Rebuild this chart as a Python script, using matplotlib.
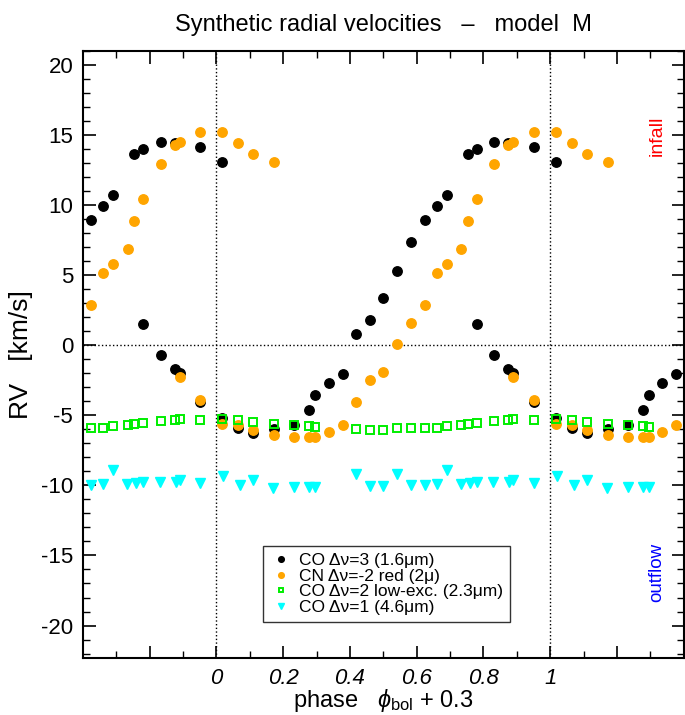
import numpy as np
import matplotlib
matplotlib.use('Agg')
import matplotlib.pyplot as plt
from matplotlib.ticker import MultipleLocator, FuncFormatter

plt.rcParams['font.family'] = ['Liberation Sans', 'DejaVu Sans']
plt.rcParams['mathtext.fontset'] = 'custom'
plt.rcParams['mathtext.rm'] = 'Liberation Sans'
plt.rcParams['mathtext.it'] = 'Liberation Sans:italic'

# one pulsation cycle of synthetic RVs, phase = phi_bol + 0.3 (plotted twice, shifted by 1)
co3_phase = [-0.376, -0.340, -0.310, -0.246, -0.219, -0.167, -0.125, -0.048, 0.017,
             -0.219, -0.167, -0.125, -0.110, -0.048, 0.017, 0.066, 0.110, 0.174, 0.232,
             0.277, 0.295, 0.336, 0.378, 0.419, 0.460, 0.500, 0.542, 0.582]
co3_rv = [8.93, 9.93, 10.74, 13.64, 14.0, 14.5, 14.45, 14.1, 13.07,
          1.48, -0.71, -1.67, -1.98, -4.05, -5.19, -5.9, -6.24, -5.95, -5.67,
          -4.6, -3.57, -2.69, -2.05, 0.79, 1.76, 3.33, 5.29, 7.33]

cn_phase = [-0.376, -0.340, -0.310, -0.266, -0.246, -0.219, -0.167, -0.125, -0.110, -0.048,
            0.017, 0.066, 0.110, 0.174,
            -0.110, -0.048, 0.017, 0.066, 0.110, 0.174, 0.232, 0.277, 0.295, 0.336,
            0.378, 0.419, 0.460, 0.500, 0.542, 0.582]
cn_rv = [2.90, 5.17, 5.79, 6.86, 8.88, 10.43, 12.95, 14.29, 14.5, 15.24,
         15.24, 14.45, 13.64, 13.05,
         -2.26, -3.93, -5.6, -5.71, -6.05, -6.38, -6.55, -6.52, -6.52, -6.19,
         -5.71, -4.05, -2.45, -1.9, 0.07, 1.55]

co2_phase = [-0.376, -0.340, -0.310, -0.266, -0.246, -0.219, -0.167, -0.125, -0.110, -0.048,
             0.017, 0.066, 0.110, 0.174, 0.232, 0.277, 0.295, 0.419, 0.460, 0.500,
             0.542, 0.582]
co2_rv = [-5.88, -5.88, -5.76, -5.67, -5.6, -5.55, -5.38, -5.31, -5.29, -5.31,
          -5.29, -5.36, -5.48, -5.6, -5.67, -5.74, -5.86, -5.98, -6.02, -6.02,
          -5.9, -5.88]

co1_phase = [-0.376, -0.340, -0.310, -0.268, -0.241, -0.219, -0.170, -0.122, -0.110, -0.048,
             0.021, 0.071, 0.110, 0.170, 0.232, 0.277, 0.295, 0.419, 0.460, 0.500,
             0.542, 0.582]
co1_rv = [-10.0, -9.93, -8.93, -9.88, -9.83, -9.76, -9.79, -9.76, -9.64, -9.83,
          -9.36, -10.0, -9.64, -10.17, -10.12, -10.12, -10.12, -9.17, -10.07, -10.05,
          -9.21, -10.0]

series = [
    (co3_phase, co3_rv, dict(marker='o', color='black', ms=6.8, mec='black'),
     'CO \u0394\u03bd=3 (1.6\u03bcm)'),
    (cn_phase, cn_rv, dict(marker='o', color='orange', ms=6.8, mec='orange'),
     'CN \u0394\u03bd=-2 red (2\u03bc)'),
    (co2_phase, co2_rv, dict(marker='s', mfc='none', mec='#00ee00', ms=5.2, mew=1.4),
     'CO \u0394\u03bd=2 low-exc. (2.3\u03bcm)'),
    (co1_phase, co1_rv, dict(marker='v', color='cyan', ms=7, mec='cyan'),
     'CO \u0394\u03bd=1 (4.6\u03bcm)'),
]

fig = plt.figure(figsize=(6.85, 7.15), dpi=100)
ax = fig.add_axes([0.121, 0.080, 0.877, 0.849])

for ph, rv, style, label in series:
    ph = np.array(ph)
    for shift in (0, 1):
        ax.plot(ph + shift, rv, linestyle='none', label=label if shift == 0 else None,
                clip_on=True, **style)

ax.axvline(0, color='black', ls=':', lw=1, zorder=0)
ax.axvline(1, color='black', ls=':', lw=1, zorder=0)
ax.axhline(0, color='black', ls=':', lw=1, zorder=0)

ax.set_xlim(-0.4, 1.4)
ax.set_ylim(-22.3, 21)

ax.xaxis.set_major_locator(MultipleLocator(0.2))
ax.xaxis.set_minor_locator(MultipleLocator(0.1))
ax.yaxis.set_major_locator(MultipleLocator(5))
ax.yaxis.set_minor_locator(MultipleLocator(1))


def xfmt(v, pos):
    if v < -0.01 or v > 1.01:
        return ''
    if abs(v) < 1e-6:
        return '0'
    if abs(v - 1) < 1e-6:
        return '1'
    return '%.1f' % v


ax.xaxis.set_major_formatter(FuncFormatter(xfmt))
ax.yaxis.set_major_formatter(FuncFormatter(lambda v, p: '%d' % round(v)))

ax.tick_params(which='both', direction='in', top=True, right=True, colors='black')
ax.tick_params(which='major', length=9, width=1.2, labelsize=16, pad=7)
ax.tick_params(which='minor', length=5, width=1.0)
for lab in ax.get_xticklabels():
    lab.set_fontstyle('italic')
for sp in ax.spines.values():
    sp.set_linewidth(1.5)

ax.set_ylabel('RV   [km/s]', fontsize=19, labelpad=6)
ax.set_xlabel(r'phase   $\phi_{\rm bol}$ + 0.3', fontsize=17, labelpad=-1)
ax.set_title('Synthetic radial velocities   \u2013   model  M', fontsize=17, pad=14)

ax.text(1.32, 14.9, 'infall', color='red', rotation=90, fontsize=14,
        ha='center', va='center')
ax.text(1.32, -16.2, 'outflow', color='blue', rotation=90, fontsize=13.5,
        ha='center', va='center')

leg = ax.legend(loc='lower center', bbox_to_anchor=(0.505, 0.045), fontsize=12.5,
                markerscale=0.6, handletextpad=0.4, labelspacing=0.02,
                handlelength=1.3, borderpad=0.4, fancybox=False, framealpha=1,
                edgecolor='#333333')
leg.get_frame().set_linewidth(1.0)

fig.savefig('out.png', dpi=100)
